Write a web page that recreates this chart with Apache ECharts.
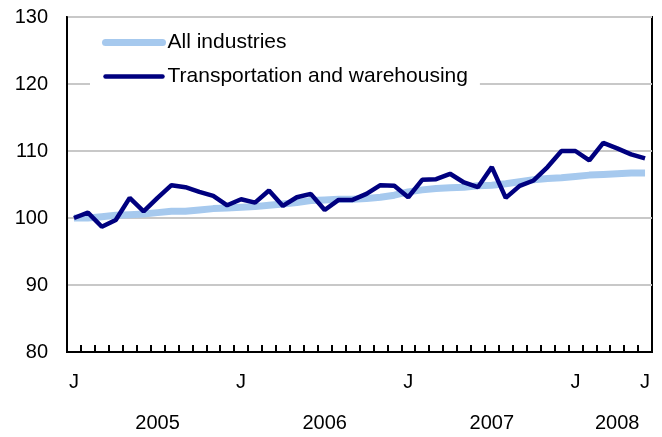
<!DOCTYPE html>
<html>
<head>
<meta charset="utf-8">
<title>Employment index</title>
<script src="https://cdn.jsdelivr.net/npm/echarts@6/dist/echarts.min.js"></script>
<style>
  html, body { margin: 0; padding: 0; background: #fff; }
  #chart { width: 662px; height: 437px; }
</style>
</head>
<body>
<div id="chart"></div>
<script>
// months Jan 2005 .. Jun 2008
const months = [
  "Jan 2005", "Feb 2005", "Mar 2005", "Apr 2005", "May 2005", "Jun 2005",
  "Jul 2005", "Aug 2005", "Sep 2005", "Oct 2005", "Nov 2005", "Dec 2005",
  "Jan 2006", "Feb 2006", "Mar 2006", "Apr 2006", "May 2006", "Jun 2006",
  "Jul 2006", "Aug 2006", "Sep 2006", "Oct 2006", "Nov 2006", "Dec 2006",
  "Jan 2007", "Feb 2007", "Mar 2007", "Apr 2007", "May 2007", "Jun 2007",
  "Jul 2007", "Aug 2007", "Sep 2007", "Oct 2007", "Nov 2007", "Dec 2007",
  "Jan 2008", "Feb 2008", "Mar 2008", "Apr 2008", "May 2008", "Jun 2008"
];

// label under the month ticks ("" = no label)
const monthTicks = [
  "J", "", "", "", "", "", "", "", "", "", "", "",
  "J", "", "", "", "", "", "", "", "", "", "", "",
  "J", "", "", "", "", "", "", "", "", "", "", "",
  "J", "", "", "", "", "J"
];

// year labels, placed under the middle of each year
const yearTicks = [
  "", "", "", "", "", "", "2005", "", "", "", "", "",
  "", "", "", "", "", "", "2006", "", "", "", "", "",
  "", "", "", "", "", "", "2007", "", "", "", "", "",
  "", "", "", "2008", "", ""
];

const allIndustries = [
  100.0, 100.0, 100.2, 100.4, 100.5, 100.6, 100.8, 101.0, 101.0, 101.2, 101.4, 101.5,
  101.6, 101.7, 101.9, 102.1, 102.3, 102.6, 102.7, 102.8, 102.8, 102.9, 103.1, 103.4,
  103.9, 104.2, 104.4, 104.5, 104.6, 104.8, 104.9, 105.1, 105.4, 105.7, 105.9, 106.0,
  106.2, 106.4, 106.5, 106.6, 106.7, 106.7
];

const transportation = [
  100.0, 100.8, 98.7, 99.7, 103.0, 101.0, 103.0, 104.9, 104.6, 103.9, 103.3, 101.9,
  102.8, 102.3, 104.1, 101.8, 103.1, 103.6, 101.2, 102.7, 102.7, 103.6, 104.9, 104.8,
  103.1, 105.7, 105.8, 106.6, 105.3, 104.6, 107.6, 103.0, 104.8, 105.6, 107.6, 110.0,
  110.0, 108.6, 111.2, 110.4, 109.5, 108.9
];

const FONT = "'Liberation Sans', Arial, Helvetica, sans-serif";

const chart = echarts.init(document.getElementById("chart"));

const option = {
  animation: false,
  textStyle: { fontFamily: FONT, color: "#000" },
  grid: [
    { left: 67, right: 10, top: 17, bottom: 85, show: true, borderColor: "#000", borderWidth: 2 },
    { left: 67, right: 10, top: 17, bottom: 85 }
  ],
  legend: {
    left: 90,
    top: 27,
    orient: "vertical",
    padding: [5, 12, 5, 12],
    backgroundColor: "#fff",
    itemWidth: 57,
    itemHeight: 14,
    itemGap: 13,
    textStyle: { fontFamily: FONT, fontSize: 21, color: "#000" },
    itemStyle: { opacity: 0 },
    lineStyle: { width: "inherit", cap: "round" },
    data: ["All industries", "Transportation and warehousing"]
  },
  xAxis: [
    {
      type: "category",
      gridIndex: 0,
      data: months,
      boundaryGap: true,
      axisLine: { lineStyle: { color: "#000", width: 2 } },
      axisTick: { show: true, inside: true, length: 7, interval: 0, lineStyle: { color: "#000", width: 2 } },
      axisLabel: {
        interval: (i) => monthTicks[i] !== "",
        formatter: (v, i) => monthTicks[i],
        fontFamily: FONT,
        fontSize: 20,
        color: "#000",
        margin: 20
      },
      splitLine: { show: false }
    },
    {
      type: "category",
      gridIndex: 1,
      data: months,
      boundaryGap: true,
      axisLine: { show: false },
      axisTick: { show: false },
      axisLabel: {
        interval: (i) => yearTicks[i] !== "",
        formatter: (v, i) => yearTicks[i],
        fontFamily: FONT,
        fontSize: 20,
        color: "#000",
        margin: 61
      },
      splitLine: { show: false }
    }
  ],
  yAxis: [
    {
      type: "value",
      gridIndex: 0,
      min: 80,
      max: 130,
      interval: 10,
      axisLine: { show: true, lineStyle: { color: "#000", width: 2 } },
      axisTick: { show: false },
      axisLabel: { fontFamily: FONT, fontSize: 20, color: "#000", margin: 19 },
      splitLine: { lineStyle: { color: "#c8c8c8", width: 2 } }
    },
    { type: "value", gridIndex: 1, show: false }
  ],
  series: [
    {
      name: "All industries",
      type: "line",
      xAxisIndex: 0,
      yAxisIndex: 0,
      data: allIndustries,
      symbol: "none",
      color: "#a6c9ee",
      lineStyle: { color: "#a6c9ee", width: 7 },
      z: 2
    },
    {
      name: "Transportation and warehousing",
      type: "line",
      xAxisIndex: 0,
      yAxisIndex: 0,
      data: transportation,
      symbol: "none",
      color: "#00007f",
      lineStyle: { color: "#00007f", width: 4.5 },
      z: 3
    }
  ]
};

chart.setOption(option);
</script>
</body>
</html>
